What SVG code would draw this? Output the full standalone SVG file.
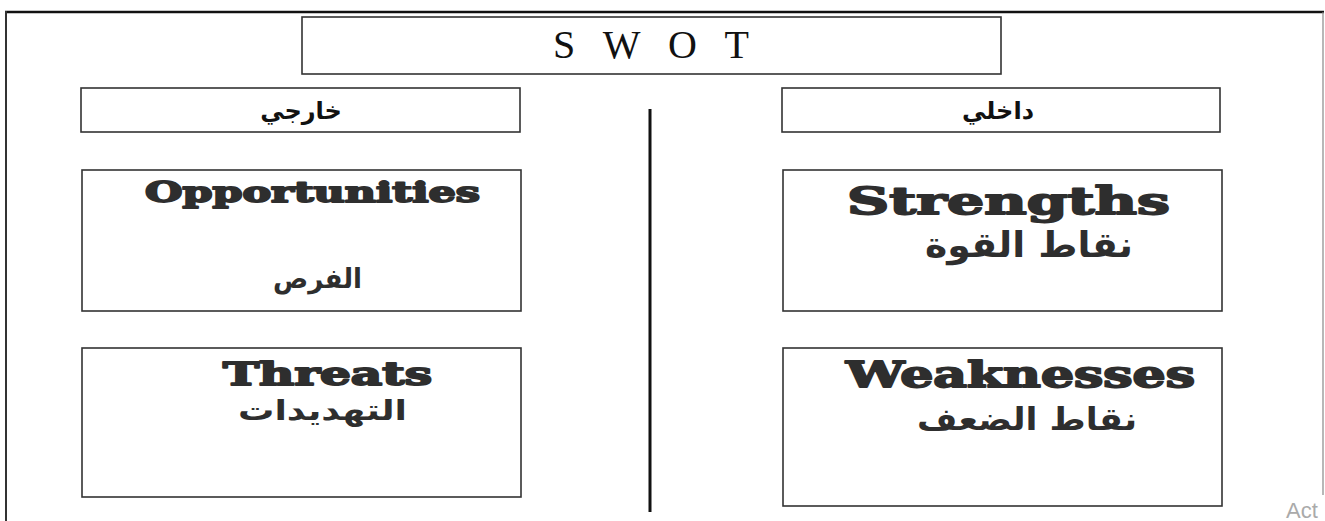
<svg xmlns="http://www.w3.org/2000/svg" width="1325" height="521" viewBox="0 0 1325 521">
<style>
.box{fill:#fff;stroke:#333;stroke-width:1.6}
.en{font-family:"DejaVu Serif","Liberation Serif",serif;font-weight:bold;fill:#2e2e2e;stroke:#2e2e2e;stroke-width:1.8;stroke-linejoin:round}
.ar{font-family:"DejaVu Sans","Noto Sans",sans-serif;font-weight:bold;fill:#2e2e2e}
.hd{font-family:"DejaVu Sans","Noto Sans",sans-serif;font-weight:bold;fill:#111}
</style>
<rect width="1325" height="521" fill="#fff"/>
<g id="frame">
<line x1="5" y1="12" x2="1324" y2="12" stroke="#111" stroke-width="2.5"/>
<line x1="6" y1="11" x2="6" y2="521" stroke="#333" stroke-width="2"/>
<line x1="1323" y1="12" x2="1323" y2="495" stroke="#888" stroke-width="1.2"/>
</g>
<g id="title">
<rect class="box" x="302" y="17" width="699" height="57"/>
<text x="553" y="58" font-family="Liberation Serif,serif" font-size="40" fill="#111" textLength="196" lengthAdjust="spacing">S W O T</text>
</g>
<g id="external">
<rect class="box" x="81" y="88" width="439" height="44"/>
<text class="hd" x="301" y="119" font-size="24" text-anchor="middle">خارجي</text>
</g>
<g id="internal">
<rect class="box" x="782" y="88" width="438" height="44"/>
<text class="hd" x="998" y="119" font-size="24" text-anchor="middle">داخلي</text>
</g>
<g id="connectors">
<line x1="650" y1="109" x2="650" y2="512" stroke="#111" stroke-width="3"/>
</g>
<g id="opportunities">
<rect class="box" x="82" y="170" width="439" height="141"/>
<text class="en" x="145" y="202" font-size="27" textLength="335" lengthAdjust="spacingAndGlyphs">Opportunities</text>
<text class="ar" x="273" y="288" font-size="27" textLength="89" lengthAdjust="spacingAndGlyphs">الفرص</text>
</g>
<g id="strengths">
<rect class="box" x="783" y="170" width="439" height="141"/>
<text class="en" x="847" y="214" font-size="38" textLength="323" lengthAdjust="spacingAndGlyphs">Strengths</text>
<text class="ar" x="925" y="257" font-size="35" textLength="208" lengthAdjust="spacingAndGlyphs">نقاط القوة</text>
</g>
<g id="threats">
<rect class="box" x="82" y="348" width="439" height="149"/>
<text class="en" x="223" y="385" font-size="31" textLength="209" lengthAdjust="spacingAndGlyphs">Threats</text>
<text class="ar" x="238" y="420" font-size="28" textLength="169" lengthAdjust="spacingAndGlyphs">التهديدات</text>
</g>
<g id="weaknesses">
<rect class="box" x="783" y="348" width="439" height="158"/>
<text class="en" x="846" y="387" font-size="35" textLength="349" lengthAdjust="spacingAndGlyphs">Weaknesses</text>
<text class="ar" x="917" y="430" font-size="31" textLength="220" lengthAdjust="spacingAndGlyphs">نقاط الضعف</text>
</g>
<text x="1286" y="518" font-family="Liberation Sans,sans-serif" font-size="22" fill="#aaa">Act</text>
</svg>
